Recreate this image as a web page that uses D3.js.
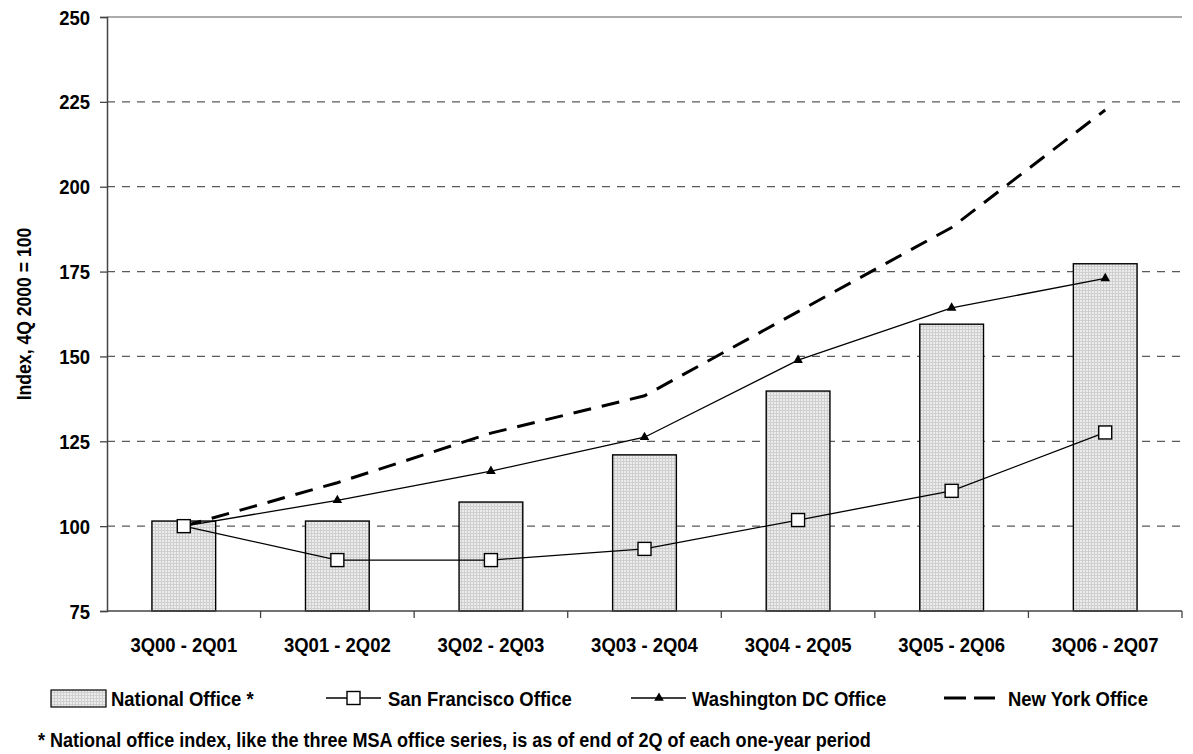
<!DOCTYPE html>
<html>
<head>
<meta charset="utf-8">
<script src="https://cdn.jsdelivr.net/npm/d3@7"></script>
<style>
  html, body { margin: 0; padding: 0; background: #fff; }
  svg { display: block; }
  text { font-family: "Liberation Sans", Arial, "Helvetica", sans-serif; font-weight: bold; fill: #000; }
</style>
</head>
<body>
<svg id="chart" width="1193" height="754"></svg>
<script>
// Periods (one-year windows) shown on the category axis
const periods = ["3Q00 - 2Q01", "3Q01 - 2Q02", "3Q02 - 2Q03", "3Q03 - 2Q04", "3Q04 - 2Q05", "3Q05 - 2Q06", "3Q06 - 2Q07"];

// Office price indices, 4Q 2000 = 100
const nationalOffice   = [101.5, 101.5, 107.1, 121.0, 139.8, 159.5, 177.3];
const sanFrancisco     = [100.0, 90.0, 90.0, 93.3, 101.8, 110.4, 127.6];
const washingtonDC     = [100.0, 107.6, 116.2, 126.2, 148.9, 164.3, 173.0];
const newYork          = [100.0, 112.8, 127.4, 138.4, 163.2, 188.0, 222.6];

const yTicks = [75, 100, 125, 150, 175, 200, 225, 250];

const legendLabels = ["National Office *", "San Francisco Office", "Washington DC Office", "New York Office"];
const footnote = "* National office index, like the three MSA office series, is as of end of 2Q of each one-year period";
const yTitle = "Index, 4Q 2000 = 100";

const svg = d3.select("#chart");
const margin = { left: 107, right: 11, top: 17, bottom: 143 };
const W = 1193, H = 754;
const plotW = W - margin.left - margin.right;
const plotH = H - margin.top - margin.bottom;

// Narrow bold lettering: regular bold face squeezed horizontally
const SQUEEZE = 0.88;
function label(parent, x, y, str, size, anchor = "start", rotate = 0) {
  return parent.append("g")
    .attr("transform", `translate(${x},${y}) rotate(${rotate}) scale(${SQUEEZE},1)`)
    .append("text")
    .attr("text-anchor", anchor)
    .style("font-size", size + "px")
    .text(str);
}

// Dotted grid fill used for the national bars
const defs = svg.append("defs");
const pat = defs.append("pattern")
  .attr("id", "barFill")
  .attr("patternUnits", "userSpaceOnUse")
  .attr("width", 3).attr("height", 3);
pat.append("rect").attr("width", 3).attr("height", 3).attr("fill", "#ececec");
pat.append("rect").attr("width", 3).attr("height", 1).attr("fill", "#cfcfcf");
pat.append("rect").attr("width", 1).attr("height", 3).attr("fill", "#cfcfcf");

const g = svg.append("g").attr("transform", `translate(${margin.left},${margin.top})`);

const x = d3.scaleBand().domain(periods).range([0, plotW]).paddingInner(0).paddingOuter(0);
const y = d3.scaleLinear().domain([75, 250]).range([plotH, 0]);
const barW = x.bandwidth() * 0.415;
const cx = d => x(d) + x.bandwidth() / 2;

// Horizontal gridlines
g.append("g").selectAll("line")
  .data(yTicks.filter(t => t > 75))
  .join("line")
  .attr("x1", 0).attr("x2", plotW)
  .attr("y1", d => y(d)).attr("y2", d => y(d))
  .attr("stroke", "#5a5a5a")
  .attr("stroke-width", 1.2)
  .attr("stroke-dasharray", d => d === 250 ? null : "8,7");

// Bars
g.append("g").selectAll("rect")
  .data(periods.map((p, i) => ({ p, v: nationalOffice[i] })))
  .join("rect")
  .attr("x", d => cx(d.p) - barW / 2)
  .attr("width", barW)
  .attr("y", d => y(d.v))
  .attr("height", d => y(75) - y(d.v))
  .attr("fill", "url(#barFill)")
  .attr("stroke", "#000")
  .attr("stroke-width", 1.4);

// Y axis: line, ticks, labels
const yAxis = d3.axisLeft(y).tickValues(yTicks).tickSize(7).tickFormat("");
const ya = g.append("g").call(yAxis);
ya.select(".domain").attr("stroke", "#444").attr("stroke-width", 1.5);
ya.selectAll(".tick line").attr("stroke", "#444").attr("stroke-width", 1.3);
yTicks.forEach(t => label(g, -17, y(t) + 7.5, String(t), 21, "end"));

// X axis: baseline, boundary ticks, category labels
const xa = g.append("g").attr("transform", `translate(0,${plotH})`);
xa.append("line").attr("x1", 0).attr("x2", plotW).attr("stroke", "#444").attr("stroke-width", 1.5);
xa.selectAll("line.tk")
  .data(periods)
  .join("line")
  .attr("class", "tk")
  .attr("x1", d => x(d) + x.bandwidth())
  .attr("x2", d => x(d) + x.bandwidth())
  .attr("y1", 0).attr("y2", 7)
  .attr("stroke", "#444").attr("stroke-width", 1.3);
periods.forEach(p => label(xa, cx(p), 41, p, 21, "middle"));

// Series lines
const lineGen = d3.line().x((d, i) => cx(periods[i])).y(d => y(d));

g.append("path").datum(newYork)
  .attr("d", lineGen)
  .attr("fill", "none")
  .attr("stroke", "#000")
  .attr("stroke-width", 3)
  .attr("stroke-dasharray", "18,11");

g.append("path").datum(washingtonDC)
  .attr("d", lineGen)
  .attr("fill", "none")
  .attr("stroke", "#000")
  .attr("stroke-width", 1.3);

g.append("path").datum(sanFrancisco)
  .attr("d", lineGen)
  .attr("fill", "none")
  .attr("stroke", "#000")
  .attr("stroke-width", 1.3);

const tri = d3.symbol().type(d3.symbolTriangle).size(40);
g.append("g").selectAll("path")
  .data(washingtonDC)
  .join("path")
  .attr("d", tri)
  .attr("transform", (d, i) => `translate(${cx(periods[i])},${y(d)})`)
  .attr("fill", "#000");

g.append("g").selectAll("rect")
  .data(sanFrancisco)
  .join("rect")
  .attr("x", (d, i) => cx(periods[i]) - 6.5)
  .attr("y", d => y(d) - 6.5)
  .attr("width", 13).attr("height", 13)
  .attr("fill", "#fff")
  .attr("stroke", "#000")
  .attr("stroke-width", 1.4);

// Y axis title
label(svg, 31, margin.top + plotH / 2, yTitle, 20, "middle", -90);

// Legend row
const lg = svg.append("g").attr("transform", "translate(0,698)");
lg.append("rect").attr("x", 51).attr("y", -8).attr("width", 55).attr("height", 17)
  .attr("fill", "url(#barFill)").attr("stroke", "#000").attr("stroke-width", 1.2);
label(lg, 111, 7.5, legendLabels[0], 21);

lg.append("line").attr("x1", 326).attr("x2", 381).attr("y1", 0).attr("y2", 0).attr("stroke", "#000").attr("stroke-width", 1.3);
lg.append("rect").attr("x", 347).attr("y", -6.5).attr("width", 13).attr("height", 13)
  .attr("fill", "#fff").attr("stroke", "#000").attr("stroke-width", 1.4);
label(lg, 388, 7.5, legendLabels[1], 21);

lg.append("line").attr("x1", 631).attr("x2", 686).attr("y1", 0).attr("y2", 0).attr("stroke", "#000").attr("stroke-width", 1.3);
lg.append("path").attr("d", tri).attr("transform", "translate(659,0)").attr("fill", "#000");
label(lg, 692, 7.5, legendLabels[2], 21);

lg.append("line").attr("x1", 944).attr("x2", 995).attr("y1", 0).attr("y2", 0)
  .attr("stroke", "#000").attr("stroke-width", 3).attr("stroke-dasharray", "22,8");
label(lg, 1008, 7.5, legendLabels[3], 21);

// Footnote
label(svg, 38, 747, footnote, 20.5);
</script>
</body>
</html>
